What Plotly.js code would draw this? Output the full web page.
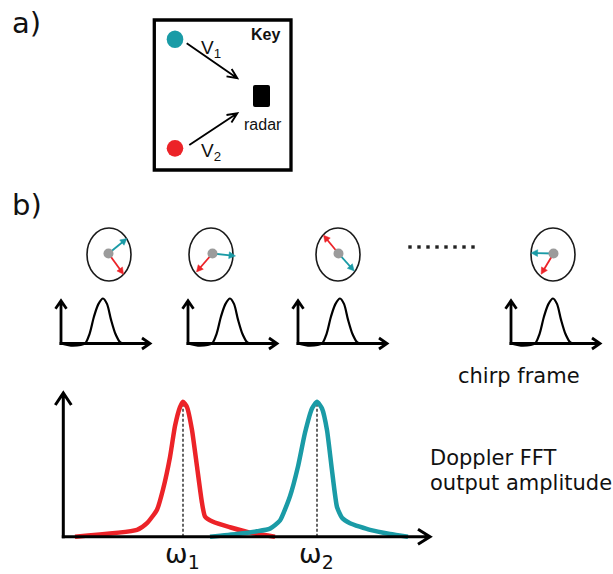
<!DOCTYPE html>
<html>
<head>
<meta charset="utf-8">
<script src="https://cdn.plot.ly/plotly-3.0.1.min.js"></script>
<style>html,body{margin:0;padding:0;background:#fff;}#chart{width:613px;height:574px;}</style>
</head>
<body>
<div id="chart"></div>
<script>
// ---------- data ----------
// Doppler FFT output spectrum (frequency bin, normalised amplitude)
const spectrumFreqRed  = [12, 74, 84, 94, 100, 107, 112, 117, 120, 124, 129, 134, 139, 142, 150, 167, 187, 212];
const spectrumAmpRed   = [0, 0.05, 0.10, 0.20, 0.35, 0.59, 0.82, 0.96, 1.0, 0.96, 0.79, 0.52, 0.25, 0.15, 0.11, 0.07, 0.03, 0];
const spectrumFreqTeal = [147, 174, 194, 207, 217, 227, 235, 242, 249, 254, 259, 264, 269, 274, 279, 287, 307, 327, 345];
const spectrumAmpTeal  = [0, 0.02, 0.04, 0.06, 0.12, 0.30, 0.52, 0.77, 0.95, 1.0, 0.95, 0.79, 0.49, 0.22, 0.14, 0.10, 0.05, 0.02, 0];
const peakFreqs  = [120, 254];
const peakLabels = ['ω<sub>1</sub>', 'ω<sub>2</sub>'];
// chirp-frame pulse (time offset, normalised amplitude)
const pulseTime = [0, 12, 24, 28.5, 33, 37.5, 42, 46, 50, 54.5, 59, 61.5];
const pulseAmp  = [0, -0.05, 0, 0.21, 0.6, 0.88, 1, 0.88, 0.53, 0.21, 0.03, 0];
// velocity vectors of the two targets in each frame (dx, dy)
const tealVecX = [18.4, 23, 15.7, -22.4];
const tealVecY = [-15, 2.4, 17.4, -0.6];
const redVecX  = [15, -16, -15, -12.4];
const redVecY  = [20.7, 18.4, -18.3, 20.7];
// text
const keyTitle = 'Key';
const targetLabels = ['V<sub>1</sub>', 'V<sub>2</sub>'];
const radarLabel = 'radar';
const panelLabels = ['a)', 'b)'];
const frameLabel = 'chirp frame';
const fftLabel = ['Doppler FFT', 'output amplitude'];

// ---------- styles / layout constants ----------
const TEAL = '#1a9ba6', RED = '#ec2328', INK = '#111';
const frameX = [61, 188, 298, 511];   // origin of each mini axis
const frameBase = 343.5, pulseH = 45;
const ellX = [109, 211, 338, 553], ellY = 254.5, ellRx = 22, ellRy = 26.5;
const dotX = [108.5, 212.5, 338.5, 553.5], dotY = 253.5;

const shapes = [], annotations = [], traces = [];

function arrowPath(x0, y0, x1, y1, back, half, w, color) {
  const dx = x1 - x0, dy = y1 - y0, L = Math.hypot(dx, dy), ux = dx / L, uy = dy / L;
  const bx = x1 - ux * back, by = y1 - uy * back, px = -uy, py = ux;
  return {type: 'path', xref: 'x', yref: 'y',
    path: `M${x0},${y0}L${x1},${y1}M${bx + px * half},${by + py * half}L${x1},${y1}L${bx - px * half},${by - py * half}`,
    line: {color: color || '#000', width: w}};
}
function filledArrow(x0, y0, x1, y1, back, half, w, color) {
  const dx = x1 - x0, dy = y1 - y0, L = Math.hypot(dx, dy), ux = dx / L, uy = dy / L;
  const bx = x1 - ux * back, by = y1 - uy * back, px = -uy, py = ux;
  return [
    {type: 'line', xref: 'x', yref: 'y', x0, y0, x1: bx + ux, y1: by + uy, line: {color, width: w}},
    {type: 'path', xref: 'x', yref: 'y', path: `M${bx + px * half},${by + py * half}L${x1},${y1}L${bx - px * half},${by - py * half}Z`,
      fillcolor: color, line: {color, width: 0.5}}
  ];
}
function txt(text, x, y, size, family, opts) {
  return Object.assign({text, x, y, xref: 'x', yref: 'y', showarrow: false, xanchor: 'left', yanchor: 'middle',
    font: {size, family, color: INK}}, opts || {});
}
const DV = 'DejaVu Sans', LS = 'Liberation Sans, Arial, sans-serif';

// ---- panel a: key ----
shapes.push({type: 'rect', xref: 'x', yref: 'y', x0: 154.3, x1: 291, y0: 20, y1: 170, line: {color: '#000', width: 3.3}});
shapes.push({type: 'circle', xref: 'x', yref: 'y', x0: 166.7, x1: 183.3, y0: 30.5, y1: 48, fillcolor: TEAL, line: {width: 0}});
shapes.push({type: 'circle', xref: 'x', yref: 'y', x0: 166.7, x1: 183.3, y0: 140, y1: 156.7, fillcolor: RED, line: {width: 0}});
shapes.push(arrowPath(186.7, 43.3, 237.3, 78.3, 10, 4.5, 1.9));
shapes.push(arrowPath(189.3, 145, 237.3, 113.3, 10, 4.5, 1.9));
shapes.push({type: 'path', xref: 'x', yref: 'y', path: 'M255,85L268,85Q270,85 270,87L270,105Q270,107 268,107L255,107Q253,107 253,105L253,87Q253,85 255,85Z', fillcolor: '#000', line: {width: 0}});
annotations.push(txt('<b>' + keyTitle + '</b>', 265, 34, 16, LS, {xanchor: 'center'}));
annotations.push(txt(targetLabels[0], 199, 49, 19, LS));
annotations.push(txt(targetLabels[1], 199, 152, 19, LS));
annotations.push(txt(radarLabel, 263, 124.5, 16, LS, {xanchor: 'center'}));
annotations.push(txt(panelLabels[0], 10, 23, 29, DV));
annotations.push(txt(panelLabels[1], 10, 205, 29, DV));

// ---- panel b: chirp frames ----
for (let i = 0; i < frameX.length; i++) {
  shapes.push({type: 'circle', xref: 'x', yref: 'y', x0: ellX[i] - ellRx, x1: ellX[i] + ellRx, y0: ellY - ellRy, y1: ellY + ellRy, line: {color: '#1a1a1a', width: 1.6}});
  [[tealVecX, tealVecY, TEAL], [redVecX, redVecY, RED]].forEach(([vx, vy, c]) => {
    filledArrow(dotX[i], dotY, dotX[i] + vx[i], dotY + vy[i], 6.5, 3.4, 1.8, c).forEach(s => shapes.push(s));
  });
  shapes.push({type: 'circle', xref: 'x', yref: 'y', x0: dotX[i] - 5, x1: dotX[i] + 5, y0: dotY - 5, y1: dotY + 5, fillcolor: '#9b9b9b', line: {width: 0}});
  // mini axes
  const x0 = frameX[i];
  shapes.push(arrowPath(x0, frameBase + 1.4, x0, 300.7, 8, 5.5, 2.8));
  shapes.push(arrowPath(x0 - 1.4, frameBase, x0 + 89, frameBase, 8, 5.5, 2.8));
  traces.push({x: pulseTime.map(t => x0 + t), y: pulseAmp.map(a => frameBase - a * pulseH), xaxis: 'x', yaxis: 'y',
    type: 'scatter', mode: 'lines', line: {color: '#000', width: 2.2, shape: 'spline', smoothing: 0.8}, hoverinfo: 'skip'});
}
// ellipsis dots
traces.push({x: Array.from({length: 8}, (_, k) => 410 + 9 * k), y: Array(8).fill(247), xaxis: 'x', yaxis: 'y', type: 'scatter', mode: 'markers',
  marker: {symbol: 'square', size: 3.4, color: '#222'}, hoverinfo: 'skip'});
annotations.push(txt(frameLabel, 519, 375.7, 21, DV, {xanchor: 'center'}));
annotations.push(txt(fftLabel[0], 428, 457.5, 21, DV));
annotations.push(txt(fftLabel[1], 428, 482.5, 21, DV));

// ---- panel b: Doppler FFT spectrum ----
shapes.push(arrowPath(63.3, 538.2, 63.3, 393, 12, 8, 3));
shapes.push(arrowPath(61.8, 536.7, 430, 536.7, 12, 7.5, 3));
traces.push({x: spectrumFreqRed, y: spectrumAmpRed, xaxis: 'x2', yaxis: 'y2', type: 'scatter', mode: 'lines',
  line: {color: RED, width: 4.5, shape: 'spline', smoothing: 0.5}, hoverinfo: 'skip'});
traces.push({x: spectrumFreqTeal, y: spectrumAmpTeal, xaxis: 'x2', yaxis: 'y2', type: 'scatter', mode: 'lines',
  line: {color: TEAL, width: 4.5, shape: 'spline', smoothing: 0.5}, hoverinfo: 'skip'});
peakFreqs.forEach((f, k) => {
  shapes.push({type: 'line', xref: 'x2', yref: 'y2', x0: f, x1: f, y0: 0, y1: 1, line: {color: '#000', width: 1.2, dash: '3px,2px'}, layer: 'below'});
  annotations.push({text: peakLabels[k], x: f, xref: 'x2', y: 555, yref: 'y', xshift: -1, showarrow: false, xanchor: 'center', yanchor: 'middle',
    font: {size: 27, family: DV, color: INK}});
});

const layout = {
  width: 613, height: 574, margin: {l: 0, r: 0, t: 0, b: 0}, paper_bgcolor: '#fff', plot_bgcolor: 'rgba(0,0,0,0)', showlegend: false,
  xaxis: {range: [0, 613], visible: false, fixedrange: true},
  yaxis: {range: [574, 0], visible: false, fixedrange: true},
  xaxis2: {domain: [63 / 613, 430 / 613], range: [0, 367], visible: false, anchor: 'y2', fixedrange: true},
  yaxis2: {domain: [(574 - 550.2) / 574, (574 - 393) / 574], range: [-0.1, 1.0644], visible: false, anchor: 'x2', fixedrange: true},
  shapes, annotations
};
Plotly.newPlot('chart', traces, layout, {displayModeBar: false, staticPlot: true});
</script>
</body>
</html>
